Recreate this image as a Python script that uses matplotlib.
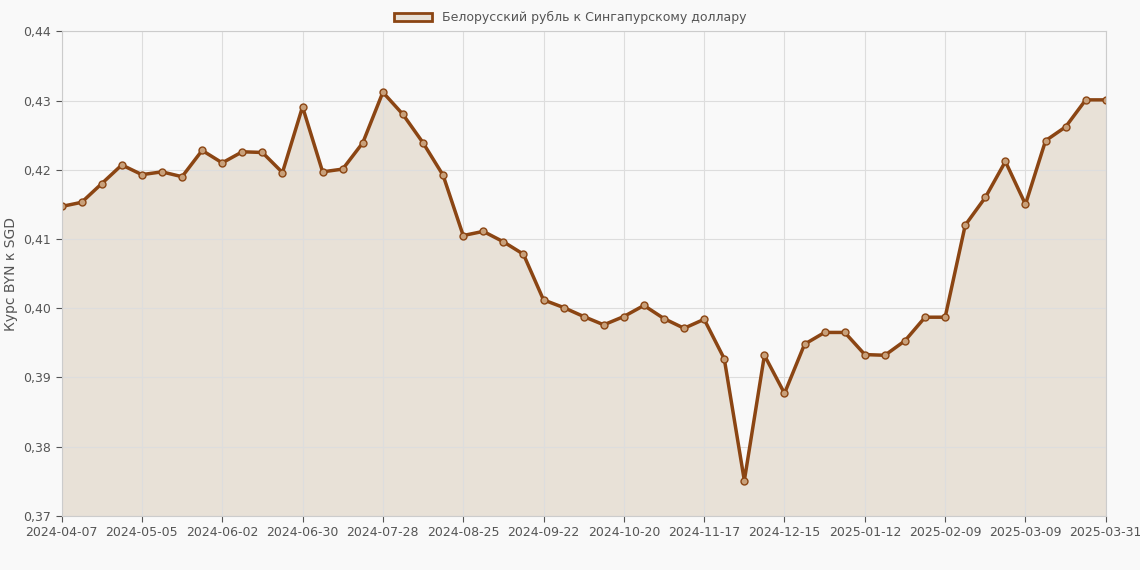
import matplotlib
matplotlib.use("Agg")
import matplotlib.pyplot as plt
import pandas as pd
from matplotlib.patches import Patch

dates = list(pd.date_range("2024-04-07", periods=52, freq="7D")) + [pd.Timestamp("2025-03-31")]
values = [0.4147,0.4153,0.4180,0.4207,0.4193,0.4197,0.4190,0.4228,0.4210,0.4226,0.4225,0.4196,
          0.4291,0.4197,0.4201,0.4239,0.4312,0.4280,0.4239,0.4192,0.4105,0.4111,0.4096,0.4078,
          0.4012,0.4001,0.3988,0.3976,0.3988,0.4004,0.3985,0.3971,0.3984,0.3927,0.3751,0.3932,
          0.3877,0.3948,0.3965,0.3965,0.3933,0.3932,0.3953,0.3987,0.3987,0.4120,0.4160,0.4212,
          0.4150,0.4242,0.4262,0.4301,0.4301]
labels = [d.strftime("%Y-%m-%d") for d in dates]
tick_idx = list(range(0, 52, 4)) + [52]
yticks = [0.37,0.38,0.39,0.40,0.41,0.42,0.43,0.44]
label = "Белорусский рубль к Сингапурскому доллару"
color = "#8B4513"
x = list(range(len(values)))

fig = plt.figure(figsize=(11.4,5.7), dpi=100, facecolor="#f9f9f9")
ax = fig.add_axes([0.054, 0.095, 0.916, 0.85])
ax.set_facecolor("#f9f9f9")
ax.fill_between(x, values, 0.37, color="#e8e1d7")
ax.plot(x, values, color=color, lw=2.5, marker="o", ms=5, mfc="#c8a07a", mec=color, mew=1)
ax.set_xlim(0, len(values)-1); ax.set_ylim(0.37, 0.44)
ax.set_xticks(tick_idx); ax.set_xticklabels([labels[i] for i in tick_idx])
ax.set_yticks(yticks); ax.set_yticklabels([f"{v:.2f}".replace(".", ",") for v in yticks])
ax.grid(color="#dddddd", lw=0.8)
for s in ax.spines.values(): s.set_color("#cccccc")
ax.tick_params(colors="#555555", labelsize=9, length=4)
ax.set_ylabel("Курс BYN к SGD", color="#555555", fontsize=10)
fig.legend(handles=[Patch(facecolor="#e8e1d7", edgecolor=color, lw=2)], labels=[label],
           loc="upper center", bbox_to_anchor=(0.5, 1.0), frameon=False, fontsize=9,
           labelcolor="#555555", handlelength=3)
fig.savefig("out.png", dpi=100, facecolor=fig.get_facecolor())
